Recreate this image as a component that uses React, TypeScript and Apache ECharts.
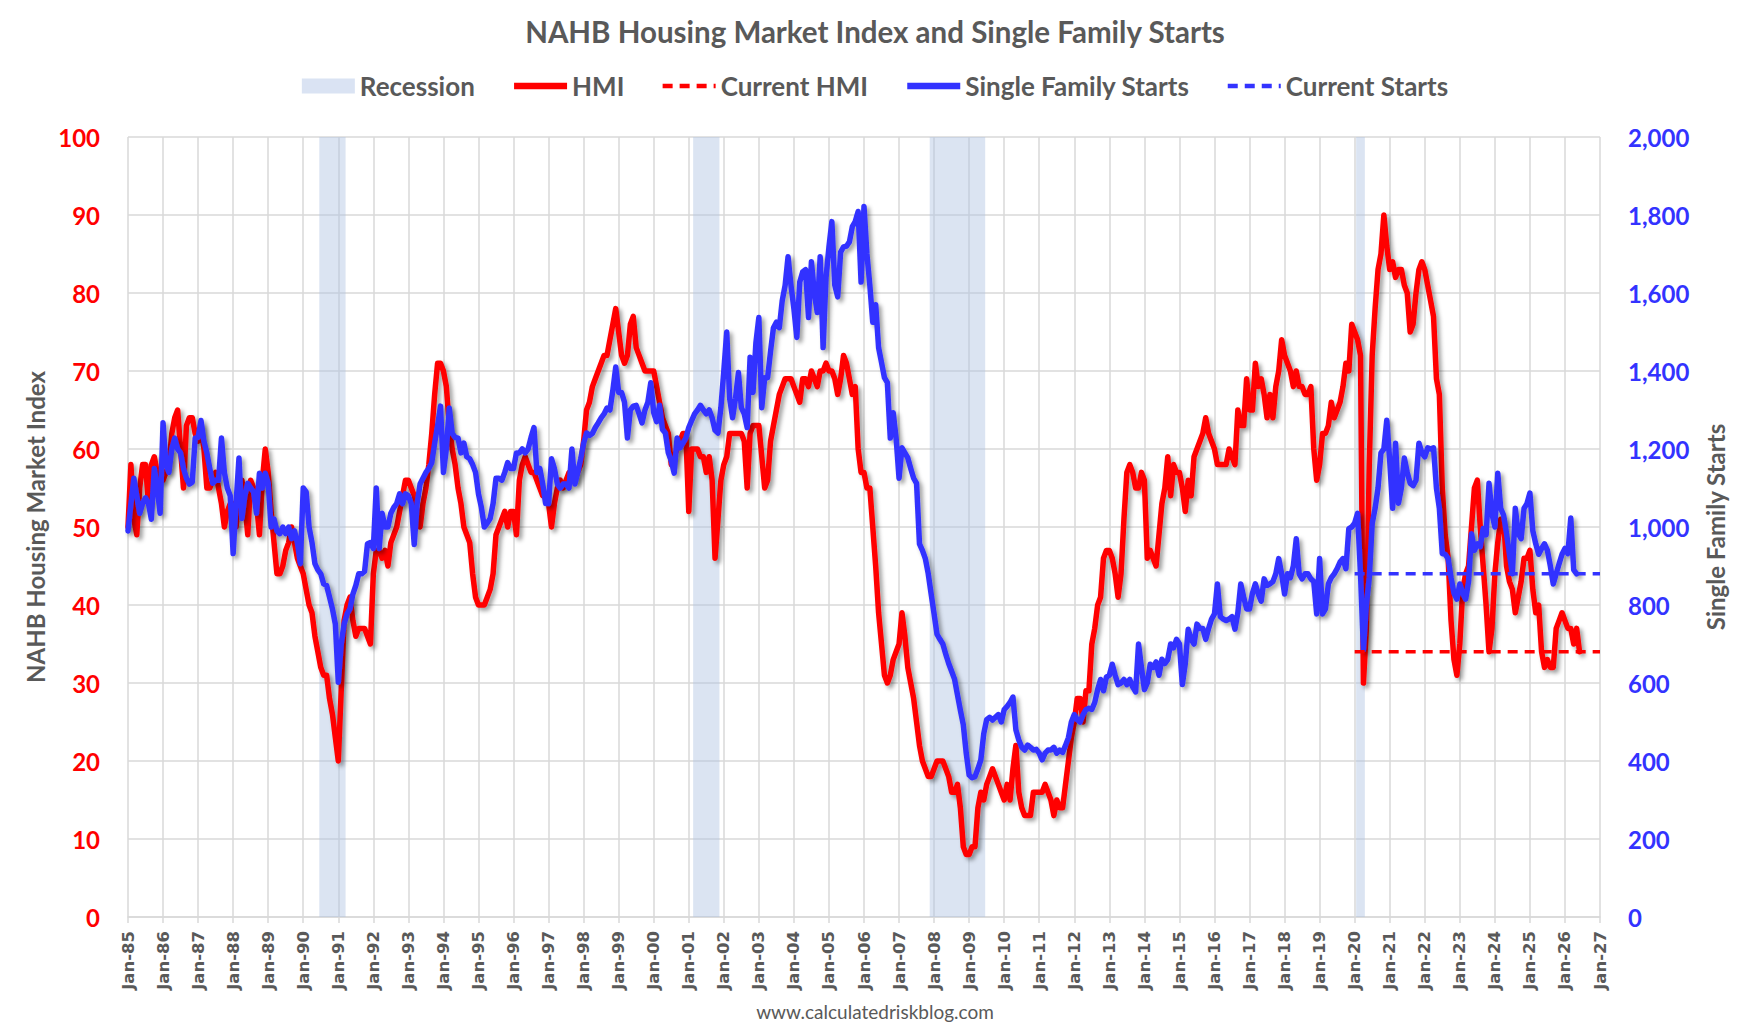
import React, { useEffect, useRef } from "react";
import * as echarts from "echarts";

// first month of both series is Jan 1985, one value per month
const START_YEAR = 1985;

// NAHB Housing Market Index (monthly, one row per year)
const hmi = [
  50, 58, 51, 49, 55, 58, 58, 53, 58, 59, 57, 56, // 1985
  56, 57, 58, 62, 64, 65, 60, 55, 63, 64, 64, 62, // 1986
  61, 63, 60, 55, 55, 56, 57, 55, 53, 50, 52, 53, // 1987
  53, 50, 54, 56, 53, 49, 56, 55, 53, 49, 56, 60, // 1988
  57, 52, 48, 44, 44, 45, 47, 48, 50, 48, 46, 45, // 1989
  44, 42, 40, 39, 36, 34, 32, 31, 31, 28, 26, 23, // 1990
  20, 29, 38, 40, 41, 38, 36, 37, 37, 37, 36, 35, // 1991
  44, 47, 47, 46, 47, 45, 48, 49, 50, 52, 54, 56, // 1992
  56, 55, 54, 52, 50, 53, 55, 58, 62, 67, 71, 71, // 1993
  70, 68, 63, 60, 58, 55, 53, 50, 49, 48, 44, 41, // 1994
  40, 40, 40, 41, 42, 44, 49, 50, 51, 52, 50, 52, // 1995
  52, 49, 56, 58, 59, 58, 57, 57, 56, 55, 54, 54, // 1996
  53, 50, 53, 55, 56, 55, 56, 57, 57, 56, 57, 58, // 1997
  61, 65, 66, 68, 69, 70, 71, 72, 72, 74, 76, 78, // 1998
  75, 72, 71, 72, 76, 77, 73, 72, 71, 70, 70, 70, // 1999
  70, 68, 66, 64, 63, 62, 58, 59, 60, 61, 62, 62, // 2000
  52, 60, 60, 60, 59, 59, 57, 59, 56, 46, 51, 56, // 2001
  58, 59, 62, 62, 62, 62, 62, 61, 55, 62, 63, 63, // 2002
  63, 59, 55, 56, 61, 63, 65, 67, 68, 69, 69, 69, // 2003
  68, 67, 66, 69, 69, 68, 70, 69, 68, 70, 70, 71, // 2004
  70, 70, 69, 67, 69, 72, 71, 69, 67, 68, 60, 57, // 2005
  57, 55, 55, 50, 45, 39, 35, 31, 30, 31, 33, 34, // 2006
  35, 39, 36, 32, 30, 28, 25, 22, 20, 19, 18, 18, // 2007
  19, 20, 20, 20, 19, 18, 16, 16, 17, 14, 9, 8, // 2008
  8, 9, 9, 14, 16, 15, 17, 18, 19, 18, 17, 16, // 2009
  15, 17, 15, 19, 22, 16, 14, 13, 13, 13, 16, 16, // 2010
  16, 16, 17, 16, 15, 13, 15, 14, 14, 17, 20, 23, // 2011
  25, 28, 28, 25, 29, 29, 35, 37, 40, 41, 46, 47, // 2012
  47, 46, 44, 41, 44, 51, 57, 58, 57, 55, 55, 57, // 2013
  56, 46, 47, 46, 45, 49, 53, 55, 59, 54, 58, 57, // 2014
  57, 55, 52, 56, 54, 59, 60, 61, 62, 64, 62, 61, // 2015
  60, 58, 58, 58, 58, 60, 59, 58, 65, 63, 63, 69, // 2016
  65, 65, 71, 68, 69, 67, 64, 67, 64, 68, 70, 74, // 2017
  72, 71, 70, 68, 70, 68, 68, 67, 67, 68, 60, 56, // 2018
  58, 62, 62, 63, 66, 64, 65, 66, 68, 71, 70, 76, // 2019
  75, 74, 72, 30, 37, 58, 72, 78, 83, 85, 90, 86, // 2020
  83, 84, 82, 83, 83, 81, 80, 75, 76, 80, 83, 84, // 2021
  83, 81, 79, 77, 69, 67, 55, 49, 46, 38, 33, 31, // 2022
  35, 42, 44, 45, 50, 55, 56, 50, 45, 40, 34, 37, // 2023
  44, 48, 51, 51, 45, 43, 42, 39, 41, 43, 46, 46, // 2024
  47, 42, 39, 40, 34, 32, 33, 32, 32, 37, 38, 39, // 2025
  38, 37, 37, 35, 37, 34, // 2026
];

// single family housing starts, thousands SAAR (monthly, one row per year)
const starts = [
  990, 1060, 1125, 1080, 1035, 1060, 1075, 1060, 1020, 1150, 1100, 1035, // 1985
  1267, 1160, 1140, 1200, 1228, 1200, 1190, 1150, 1125, 1110, 1115, 1228, // 1986
  1230, 1273, 1220, 1190, 1150, 1112, 1120, 1120, 1228, 1140, 1100, 1080, // 1987
  932, 1060, 1177, 1022, 1080, 1112, 1100, 1090, 1035, 1138, 1100, 1138, // 1988
  1112, 1000, 1020, 990, 983, 1000, 983, 1000, 970, 990, 960, 906, // 1989
  1100, 1090, 1000, 960, 906, 890, 880, 854, 850, 820, 790, 751, // 1990
  602, 700, 751, 777, 790, 828, 850, 880, 880, 886, 957, 960, // 1991
  945, 1100, 945, 1035, 1000, 1000, 1035, 1050, 1060, 1085, 1060, 1085, // 1992
  1080, 1060, 955, 1060, 1110, 1125, 1140, 1150, 1165, 1215, 1260, 1310, // 1993
  1140, 1200, 1305, 1240, 1230, 1228, 1190, 1215, 1180, 1175, 1160, 1140, // 1994
  1085, 1050, 1000, 1010, 1022, 1060, 1125, 1125, 1120, 1140, 1165, 1150, // 1995
  1150, 1190, 1190, 1200, 1190, 1200, 1230, 1255, 1140, 1150, 1110, 1060, // 1996
  1060, 1175, 1150, 1110, 1100, 1110, 1110, 1100, 1200, 1110, 1140, 1175, // 1997
  1215, 1241, 1235, 1240, 1255, 1267, 1280, 1290, 1305, 1300, 1350, 1410, // 1998
  1345, 1345, 1320, 1228, 1300, 1310, 1312, 1290, 1267, 1300, 1320, 1370, // 1999
  1293, 1270, 1312, 1250, 1241, 1190, 1170, 1138, 1228, 1203, 1215, 1228, // 2000
  1255, 1273, 1290, 1300, 1312, 1300, 1290, 1300, 1280, 1248, 1241, 1306, // 2001
  1400, 1500, 1330, 1280, 1330, 1396, 1306, 1290, 1255, 1435, 1345, 1473, // 2002
  1537, 1306, 1383, 1383, 1450, 1511, 1525, 1511, 1580, 1620, 1693, 1620, // 2003
  1560, 1486, 1628, 1654, 1660, 1537, 1680, 1600, 1550, 1693, 1460, 1640, // 2004
  1718, 1783, 1620, 1590, 1705, 1718, 1720, 1731, 1770, 1783, 1809, 1628, // 2005
  1822, 1700, 1620, 1525, 1570, 1460, 1422, 1383, 1370, 1228, 1293, 1228, // 2006
  1125, 1203, 1190, 1177, 1150, 1125, 1112, 957, 940, 919, 880, 828, // 2007
  777, 725, 712, 700, 674, 650, 630, 610, 570, 530, 493, 420, // 2008
  364, 357, 360, 380, 403, 470, 506, 512, 505, 512, 519, 500, // 2009
  532, 540, 550, 564, 480, 454, 435, 428, 441, 435, 428, 430, // 2010
  420, 403, 420, 428, 428, 435, 420, 428, 422, 440, 460, 500, // 2011
  519, 506, 500, 519, 532, 535, 532, 550, 583, 609, 580, 615, // 2012
  620, 648, 620, 596, 600, 609, 596, 609, 590, 577, 700, 640, // 2013
  583, 600, 648, 640, 654, 620, 661, 650, 660, 700, 690, 712, // 2014
  700, 596, 650, 738, 712, 700, 751, 740, 740, 712, 740, 764, // 2015
  777, 854, 770, 764, 760, 764, 770, 738, 780, 854, 820, 790, // 2016
  790, 830, 854, 828, 810, 867, 850, 854, 860, 880, 919, 880, // 2017
  828, 880, 870, 900, 970, 880, 867, 880, 880, 867, 860, 777, // 2018
  919, 777, 790, 854, 870, 880, 893, 910, 919, 893, 996, 1000, // 2019
  1010, 1035, 880, 686, 800, 870, 1009, 1048, 1100, 1190, 1200, 1274, // 2020
  1170, 1048, 1215, 1061, 1100, 1177, 1140, 1112, 1106, 1120, 1215, 1190, // 2021
  1180, 1203, 1200, 1203, 1100, 1048, 932, 930, 919, 870, 830, 815, // 2022
  854, 830, 815, 860, 983, 940, 957, 950, 996, 980, 1112, 1035, // 2023
  1000, 1138, 1048, 1030, 983, 930, 880, 1048, 983, 970, 1048, 1060, // 2024
  1087, 990, 957, 930, 945, 957, 940, 900, 854, 880, 906, 930, // 2025
  945, 932, 1023, 890, 880, // 2026
];

// NBER recessions, first and last month
const recessions = [
  ["1990-07", "1991-03"],
  ["2001-03", "2001-11"],
  ["2007-12", "2009-06"],
  ["2020-02", "2020-04"],
];

// the "current" reference lines start here
const CURRENT_FROM = 2020;
const X_MIN = 1985;
const X_MAX = 2027;

const monthToX = (s: string) => {
  const [y, m] = s.split("-").map(Number);
  return y + (m - 1) / 12;
};

const toPoints = (vals: number[]) =>
  vals.map((v, i) => [START_YEAR + i / 12, v]);

const FONT = "Lato, 'Open Sans', sans-serif";
const GRAY = "#595959";
const GRID = "#d9d9d9";
const RED = "#ff0000";
const BLUE = "#3333ff";
const DASH = [10, 7];

const shadow = {
  shadowColor: "rgba(0,0,0,0.38)",
  shadowBlur: 4,
  shadowOffsetX: 3,
  shadowOffsetY: 3,
};

// legend entries for lines: no marker in the middle, thick stroke
const lineLegend = (name: string, color: string, dashed: boolean) => ({
  name,
  itemStyle: { opacity: 0 },
  lineStyle: { color, width: dashed ? 4.5 : 6.5, type: dashed ? DASH : "solid", cap: "butt" },
});

const App: React.FC = () => {
  const chartRef = useRef<HTMLDivElement>(null);

  useEffect(() => {
    if (!chartRef.current) return;
    const chart = echarts.init(chartRef.current, null, { renderer: "svg" });

    const lastHmi = hmi[hmi.length - 1];
    const lastStarts = starts[starts.length - 1];
    const half = 0.5 / 12;

    chart.setOption({
      animation: false,
      backgroundColor: "#ffffff",
      title: [
        {
          text: "NAHB Housing Market Index and Single Family Starts",
          left: "center",
          top: 11,
          textStyle: { fontFamily: FONT, fontWeight: "bold", fontSize: 29.5, color: GRAY },
        },
        {
          text: "www.calculatedriskblog.com",
          left: "center",
          top: 997,
          textStyle: { fontFamily: FONT, fontWeight: "normal", fontSize: 19, color: GRAY },
        },
      ],
      legend: {
        top: 68,
        left: "center",
        itemWidth: 53,
        itemHeight: 15,
        itemGap: 36,
        textStyle: { fontFamily: FONT, fontWeight: "bold", fontSize: 26, color: GRAY },
        data: [
          { name: "Recession", icon: "rect" },
          lineLegend("HMI", RED, false),
          lineLegend("Current HMI", RED, true),
          lineLegend("Single Family Starts", BLUE, false),
          lineLegend("Current Starts", BLUE, true),
        ],
      },
      grid: { left: 128, right: 150, top: 137, bottom: 117 },
      xAxis: {
        type: "value",
        min: X_MIN,
        max: X_MAX,
        interval: 1,
        axisLine: { show: true, lineStyle: { color: GRID, width: 1.5 } },
        axisTick: { show: true, length: 6, lineStyle: { color: GRID, width: 1.5 } },
        splitLine: { show: true, lineStyle: { color: GRID, width: 1.5 } },
        axisLabel: {
          rotate: 90,
          margin: 14,
          color: GRAY,
          fontFamily: "'DejaVu Sans', sans-serif",
          fontWeight: "bold",
          fontSize: 16.5,
          formatter: (v: number) => "Jan-" + String(Math.round(v) % 100).padStart(2, "0"),
        },
      },
      yAxis: [
        {
          type: "value",
          min: 0,
          max: 100,
          interval: 10,
          name: "NAHB Housing Market Index",
          nameLocation: "middle",
          nameRotate: 90,
          nameGap: 76,
          nameTextStyle: { fontFamily: FONT, fontWeight: "bold", fontSize: 24, color: GRAY },
          axisLine: { show: false },
          axisTick: { show: false },
          splitLine: { show: true, lineStyle: { color: GRID, width: 1.5 } },
          axisLabel: { margin: 28, color: RED, fontFamily: FONT, fontWeight: "bold", fontSize: 24 },
        },
        {
          type: "value",
          min: 0,
          max: 2000,
          interval: 200,
          position: "right",
          name: "Single Family Starts",
          nameLocation: "middle",
          nameRotate: 90,
          nameGap: 103,
          nameTextStyle: { fontFamily: FONT, fontWeight: "bold", fontSize: 24, color: GRAY },
          axisLine: { show: false },
          axisTick: { show: false },
          splitLine: { show: false },
          axisLabel: {
            margin: 28,
            color: BLUE,
            fontFamily: FONT,
            fontWeight: "bold",
            fontSize: 24,
            formatter: (v: number) => v.toLocaleString("en-US"),
          },
        },
      ],
      series: [
        {
          name: "Recession",
          type: "line",
          data: [],
          symbol: "none",
          itemStyle: { color: "#dae3f3" },
          lineStyle: { color: "#dae3f3" },
        },
        {
          name: "HMI",
          type: "line",
          yAxisIndex: 0,
          data: toPoints(hmi),
          symbol: "none",
          z: 3,
          lineStyle: { color: RED, width: 5.5, cap: "round", join: "round", ...shadow },
          itemStyle: { color: RED },
          markArea: {
            silent: true,
            z: 1,
            itemStyle: { color: "rgba(176,196,226,0.45)" },
            data: recessions.map(([a, b]) => [
              { xAxis: monthToX(a) - half },
              { xAxis: monthToX(b) + half },
            ]),
          },
        },
        {
          name: "Current HMI",
          type: "line",
          yAxisIndex: 0,
          data: [
            [CURRENT_FROM, lastHmi],
            [X_MAX, lastHmi],
          ],
          symbol: "none",
          z: 5,
          lineStyle: { color: RED, width: 3.5, type: DASH },
          itemStyle: { color: RED },
        },
        {
          name: "Single Family Starts",
          type: "line",
          yAxisIndex: 1,
          data: toPoints(starts),
          symbol: "none",
          z: 4,
          lineStyle: { color: BLUE, width: 5.5, cap: "round", join: "round", ...shadow },
          itemStyle: { color: BLUE },
        },
        {
          name: "Current Starts",
          type: "line",
          yAxisIndex: 1,
          data: [
            [CURRENT_FROM, lastStarts],
            [X_MAX, lastStarts],
          ],
          symbol: "none",
          z: 6,
          lineStyle: { color: BLUE, width: 3.5, type: DASH },
          itemStyle: { color: BLUE },
        },
      ],
    });

    return () => {
      chart.dispose();
    };
  }, []);

  return (
    <div
      ref={chartRef}
      style={{ position: "absolute", left: 0, top: 0, width: 1750, height: 1034, background: "#fff" }}
    />
  );
};

export default App;
